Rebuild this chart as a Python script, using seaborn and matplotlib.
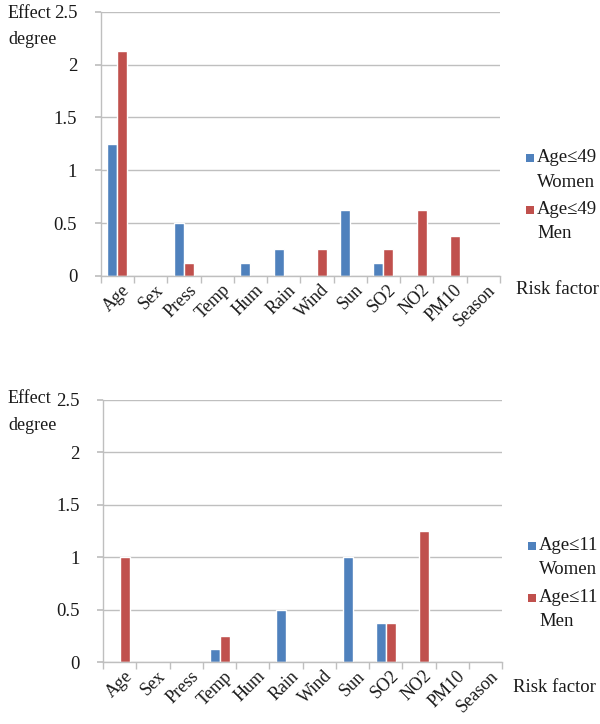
import numpy as np
import pandas as pd
import matplotlib
matplotlib.use("Agg")
import matplotlib.pyplot as plt
import seaborn as sns
from matplotlib.patches import Rectangle

factors = ["Age", "Sex", "Press", "Temp", "Hum", "Rain", "Wind",
           "Sun", "SO2", "NO2", "PM10", "Season"]

# Upper panel: age <= 49
women_49 = [1.25, 0, 0.5, 0, 0.125, 0.25, 0, 0.625, 0.125, 0, 0, 0]
men_49 = [2.125, 0, 0.125, 0, 0, 0, 0.25, 0, 0.25, 0.625, 0.375, 0]

# Lower panel: age <= 11
women_11 = [0, 0, 0, 0.125, 0, 0.5, 0, 1.0, 0.375, 0, 0, 0]
men_11 = [1.0, 0, 0, 0.25, 0, 0, 0, 0, 0.375, 1.25, 0, 0]

y_ticks = [0, 0.5, 1, 1.5, 2, 2.5]
y_tick_labels = ["0", "0.5", "1", "1.5", "2", "2.5"]

BLUE = "#4F81BD"
RED = "#C0504D"
GRID = "#BFBFBF"
INK = "#1a1a1a"

sns.set_theme(style="white")
plt.rcParams["font.family"] = ["Liberation Serif", "DejaVu Serif"]

W, H = 600, 724
fig = plt.figure(figsize=(W / 100, H / 100), dpi=100)


def fx(px):
    return px / W


def fy(py):
    return 1 - py / H


def ftext(x, y, s, **kw):
    kw.setdefault("fontsize", 13.5)
    kw.setdefault("color", INK)
    kw.setdefault("va", "center")
    kw.setdefault("ha", "left")
    fig.text(fx(x), fy(y), s, **kw)


def panel(rect, women, men, tag, title_y, risk_xy, legend_xy):
    ax = fig.add_axes(rect)
    lab_w = f"Age\u2264{tag}\nWomen"
    lab_m = f"Age\u2264{tag}\nMen"
    df = pd.DataFrame({
        "factor": factors * 2,
        "value": list(women) + list(men),
        "group": [lab_w] * len(factors) + [lab_m] * len(factors),
    })
    sns.barplot(data=df, x="factor", y="value", hue="group",
                order=factors, hue_order=[lab_w, lab_m],
                palette=[BLUE, RED], width=0.6, saturation=1,
                errorbar=None, legend=False, ax=ax)
    ax.set_xlim(-0.5, len(factors) - 0.5)
    ax.set_ylim(0, 2.5)
    ax.set_yticks(y_ticks)
    ax.set_yticklabels(y_tick_labels, fontsize=13.5, color=INK)
    ax.yaxis.grid(True, color=GRID, linewidth=1)
    ax.set_axisbelow(True)
    for s in ["top", "right"]:
        ax.spines[s].set_visible(False)
    for s in ["left", "bottom"]:
        ax.spines[s].set_color(GRID)
        ax.spines[s].set_linewidth(1)
    ax.tick_params(axis="y", which="major", length=4, color=GRID, pad=13, left=True)
    ax.set_xticks(np.arange(len(factors)) + 0.12)
    ax.set_xticklabels(factors, rotation=45, ha="right", rotation_mode="anchor",
                       fontsize=13, color=INK)
    ax.tick_params(axis="x", which="major", length=0, pad=4)
    ax.set_xticks(np.arange(-0.5, len(factors), 1.0), minor=True)
    ax.tick_params(axis="x", which="minor", length=5, color=GRID, bottom=True)
    ax.set_xlabel("")
    ax.set_ylabel("")

    # axis titles
    ftext(8, title_y, "Effect", fontsize=13)
    ftext(8, title_y + 27, "degree", fontsize=13)
    ftext(risk_xy[0], risk_xy[1], "Risk factor")

    # legend: swatch aligned with the first line of each two-line label
    lx, ly = legend_xy
    for i, (col, lab) in enumerate([(BLUE, lab_w), (RED, lab_m)]):
        y0 = ly + i * 52
        fig.patches.append(Rectangle((fx(lx), fy(y0 + 4)), fx(8), 8 / H,
                                     transform=fig.transFigure,
                                     facecolor=col, edgecolor="none"))
        first, second = lab.split("\n")
        ftext(lx + 11, y0, first)
        ftext(lx + 11, y0 + 24, second)
    return ax


panel([0.168, 0.619, 0.665, 0.3646], women_49, men_49, "49",
      title_y=13, risk_xy=(516, 290), legend_xy=(526, 158))
panel([0.172, 0.0856, 0.665, 0.362], women_11, men_11, "11",
      title_y=399, risk_xy=(513, 688), legend_xy=(528, 546))

fig.savefig("out.png", dpi=100)
